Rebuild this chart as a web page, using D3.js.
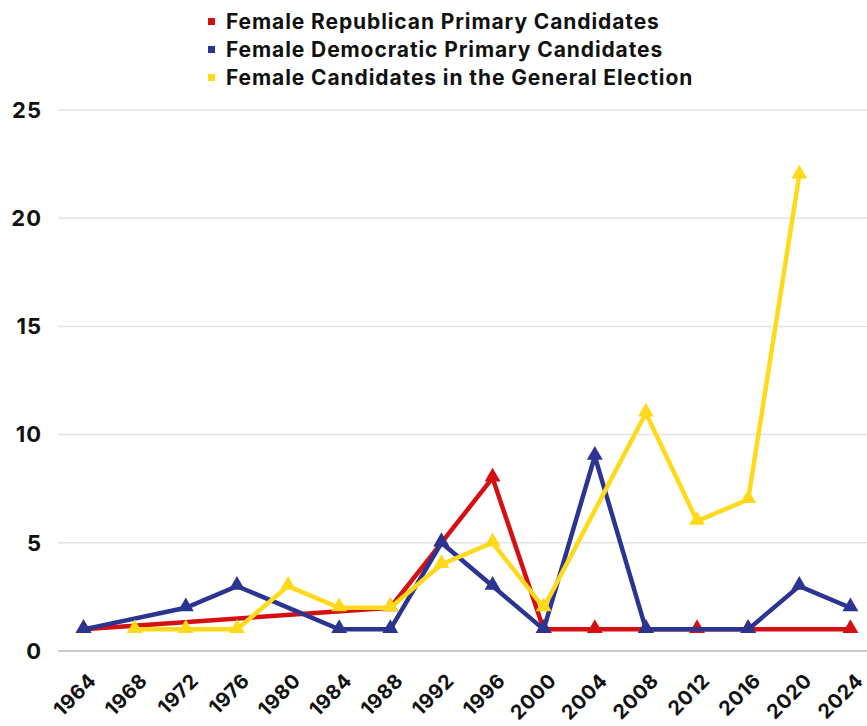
<!DOCTYPE html>
<html>
<head>
<meta charset="utf-8">
<script src="https://cdn.jsdelivr.net/npm/d3@7"></script>
<style>
  body { margin: 0; background: #fff; }
  svg { display: block; font-family: Inter, "Liberation Sans", sans-serif; }
</style>
</head>
<body>
<div id="plot"></div>
<script>
// election years on the x axis
const years = ["1964", "1968", "1972", "1976", "1980", "1984", "1988", "1992",
  "1996", "2000", "2004", "2008", "2012", "2016", "2020", "2024"];

// null = no point that year (line just joins the neighbours)
const republican = [1, null, null, null, null, null, 2, 5, 8, 1, 1, 1, 1, 1, null, 1];
const democratic = [1, null, 2, 3, null, 1, 1, 5, 3, 1, 9, 1, null, 1, 3, 2];
const general = [null, 1, 1, 1, 3, 2, 2, 4, 5, 2, null, 11, 6, 7, 22, null];

const yTicks = [0, 5, 10, 15, 20, 25];

const seriesNames = [
  "Female Republican Primary Candidates",
  "Female Democratic Primary Candidates",
  "Female Candidates in the General Election"
];
const seriesColors = ["#d50f12", "#2b3591", "#ffd91a"];
const seriesValues = [republican, democratic, general];

const W = 867, H = 726;
const svg = d3.select("#plot")
  .append("svg")
  .attr("width", W)
  .attr("height", H);

const x = d3.scaleBand()
  .domain(years)
  .range([58, 876])
  .paddingInner(0)
  .paddingOuter(0);

const y = d3.scaleLinear()
  .domain([0, 25])
  .range([651, 110]);

// gridlines
svg.append("g")
  .selectAll("line")
  .data(yTicks)
  .enter()
  .append("line")
  .attr("x1", 58)
  .attr("x2", W)
  .attr("y1", d => y(d))
  .attr("y2", d => y(d))
  .attr("stroke", d => d === 0 ? "#cccccc" : "#e3e3e3")
  .attr("stroke-width", d => d === 0 ? 2 : 1.5);

// y labels
svg.append("g")
  .selectAll("text")
  .data(yTicks)
  .enter()
  .append("text")
  .attr("x", 42)
  .attr("y", d => y(d))
  .attr("dy", "0.35em")
  .attr("text-anchor", "end")
  .style("font-size", "22px")
  .style("font-weight", 700)
  .style("letter-spacing", "1px")
  .attr("fill", "#111")
  .text(d => d);

// x labels, rotated
const cx = d => x(d) + x.bandwidth() / 2;
svg.append("g")
  .selectAll("text")
  .data(years)
  .enter()
  .append("text")
  .attr("transform", d => `translate(${cx(d) + 9},${677}) rotate(-45)`)
  .attr("text-anchor", "end")
  .attr("dy", "0.35em")
  .style("font-size", "20px")
  .style("font-weight", 700)
  .style("letter-spacing", "0.5px")
  .attr("fill", "#111")
  .text(d => d);

const line = d3.line()
  .x(d => cx(d.year))
  .y(d => y(d.value));

const tri = d3.symbol().type(d3.symbolTriangle).size(110);

seriesValues.forEach((vals, i) => {
  const pts = years
    .map((yr, j) => ({ year: yr, value: vals[j] }))
    .filter(d => d.value !== null);

  svg.append("path")
    .datum(pts)
    .attr("d", line)
    .attr("fill", "none")
    .attr("stroke", seriesColors[i])
    .attr("stroke-width", 4.5)
    .attr("stroke-linejoin", "miter");

  svg.append("g")
    .selectAll("path")
    .data(pts)
    .enter()
    .append("path")
    .attr("d", tri)
    .attr("transform", d => `translate(${cx(d.year)},${y(d.value) - 1})`)
    .attr("fill", seriesColors[i]);
});

// legend
const legend = svg.append("g");
seriesNames.forEach((name, i) => {
  const ly = 22 + i * 28;
  legend.append("rect")
    .attr("x", 208)
    .attr("y", ly - 4)
    .attr("width", 7)
    .attr("height", 7)
    .attr("fill", seriesColors[i]);
  legend.append("text")
    .attr("x", 226)
    .attr("y", ly)
    .attr("dy", "0.35em")
    .style("font-size", "21px")
    .style("font-weight", 700)
    .style("letter-spacing", "0.9px")
    .attr("fill", "#111")
    .text(name);
});
</script>
</body>
</html>
